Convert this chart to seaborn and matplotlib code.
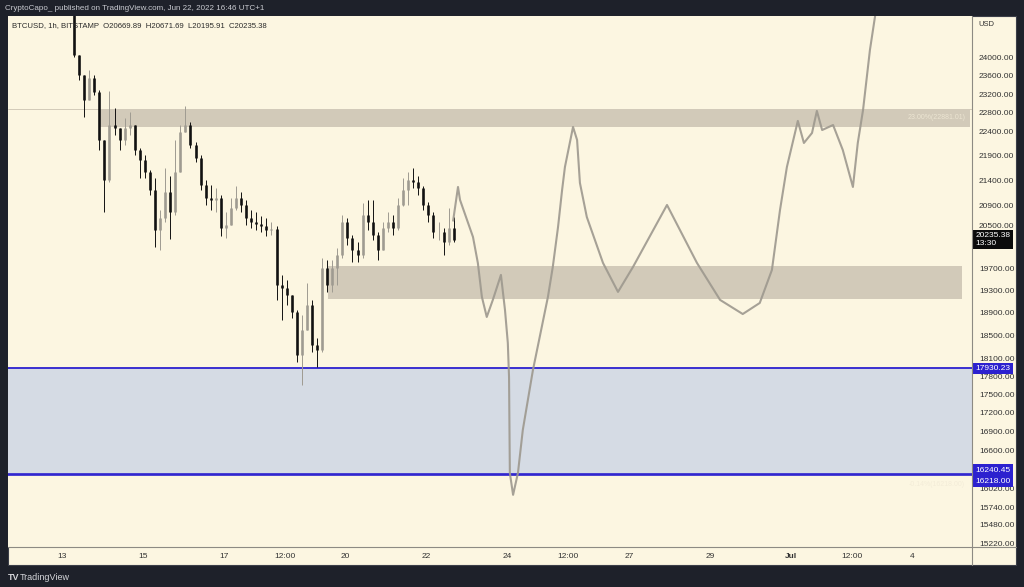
import numpy as np
import matplotlib
matplotlib.use("Agg")
import matplotlib.pyplot as plt
import seaborn as sns
from matplotlib.patches import Rectangle
from matplotlib.lines import Line2D
from matplotlib.ticker import FixedLocator, FixedFormatter, NullLocator

# 3h candles, x = day of June
candle_start = 13.3
candle_step = 0.125
first_open = 25200
closes = [24070, 23620, 23072, 23553, 23246, 22221, 21402, 22537, 22473, 22221,
          22473, 22537, 22014, 21808, 21564, 21202, 20421, 20652, 21162, 20769,
          21564, 22389, 22537, 22117, 21849, 21302, 21043, 21004, 21043, 20459,
          20517, 20847, 21043, 20905, 20652, 20575, 20536, 20498, 20421, 20440,
          19393, 19338, 19212, 18908, 18160, 18591, 19032, 18331, 18245, 19705,
          19393, 19705, 19947, 20575, 20268, 20041, 19947, 20710, 20575, 20325,
          20041, 20459, 20575, 20459, 20905, 21202, 21402, 21362, 21242, 20905,
          20710, 20383, 20383, 20192, 20459, 20235.38]
highs = [25350, 24070, 23620, 23731, 23620, 23300, 22221, 23268, 22899, 22473,
         22686, 22813, 22537, 22055, 21911, 21604, 21442, 20808, 21644, 21483,
         22221, 22537, 22942, 22601, 22180, 21900, 21402, 21302, 21242, 21103,
         20769, 21043, 21282, 21162, 21004, 20808, 20769, 20691, 20652, 20575,
         20498, 19576, 19484, 19212, 18943, 18854, 19429, 19122, 18452, 19891,
         19854, 19854, 20079, 20710, 20652, 20325, 20192, 20944, 21004, 21004,
         20383, 20575, 20769, 20710, 21043, 21442, 21564, 21644, 21483, 21282,
         20964, 20769, 20575, 20459, 20847, 20671.69]
lows = [24020, 23509, 22707, 23072, 23181, 22014, 20769, 21362, 22326, 22014,
        22117, 22326, 21911, 21442, 21442, 21103, 20098, 20041, 20575, 20249,
        20710, 21564, 22389, 22055, 21767, 21202, 20905, 20808, 20769, 20306,
        20268, 20517, 20808, 20769, 20517, 20459, 20421, 20383, 20306, 20325,
        19122, 18766, 19032, 18801, 18041, 17655, 18591, 18211, 17956, 18211,
        19266, 19266, 19393, 19891, 20135, 19817, 19817, 19891, 20421, 20230,
        19854, 20041, 20383, 20325, 20421, 20886, 20905, 21242, 21103, 20808,
        20575, 20268, 20230, 19947, 20135, 20195.91]

# hand drawn projection
proj_days = [22.66, 22.78, 22.83, 23.15, 23.27, 23.37, 23.49, 23.64, 23.84, 23.94,
             24.01, 24.04, 24.06, 24.14, 24.26, 24.38, 24.63, 25.00, 25.12, 25.25,
             25.35, 25.42, 25.62, 25.72, 25.79, 25.96, 26.36, 26.73, 27.10, 27.94,
             28.68, 29.25, 29.81, 30.23, 30.53, 30.73, 30.90, 31.17, 31.32, 31.52,
             31.64, 31.77, 32.04, 32.28, 32.53, 32.65, 32.78, 32.95, 33.10]
proj_prices = [20600, 21262, 21005, 20287, 19798, 19176, 18819, 19123, 19577, 18943,
               18365, 17789, 16255, 15924, 16255, 16925, 17904, 19176, 19723, 20479,
               21202, 21665, 22495, 22222, 21343, 20671, 19798, 19267, 19723, 20906,
               19798, 19123, 18871, 19068, 19668, 20808, 21665, 22623, 22159, 22368,
               22836, 22430, 22536, 22013, 21262, 22159, 22856, 24181, 25106]

zone_top = 17930.23
zone_lows = [16240.45, 16218.00]
supply_box = [13.94, 35.42, 22494, 22881.01]
demand_box = [19.57, 35.22, 19140, 19742]
last_price = 20235.38

price_ticks = [24000, 23600, 23200, 22800, 22400, 21900, 21400, 20900, 20500,
               19700, 19300, 18900, 18500, 18100, 17800, 17500, 17200, 16900, 16600,
               16020, 15740, 15480, 15220]
date_ticks = [13, 15, 17, 18.5, 20, 22, 24, 25.5, 27, 29, 31, 32.5, 34]
date_labels = ["13", "15", "17", "12:00", "20", "22", "24", "12:00", "27", "29", "Jul", "12:00", "4"]

DARK = "#1e212a"
CREAM = "#fcf6e1"
TAN = "#d2cab9"
BLUE = "#2c21cf"
BLUE_FILL = "#d5dbe4"
GREY_LINE = "#9d988e"
TXT = "#333333"

sns.set_style("white")
plt.rcParams["font.family"] = ["Liberation Sans", "DejaVu Sans"]

W, H = 1024, 587
fig = plt.figure(figsize=(W / 100, H / 100), dpi=100, facecolor=DARK)

def fx(px):
    return px / W

def fy(py):
    return (H - py) / H

# cream panel behind chart + axis strips
fig.add_artist(Rectangle((fx(8), fy(565)), fx(1016) - fx(8), fy(16) - fy(565),
                         transform=fig.transFigure, fc=CREAM, ec="#3b3e48", lw=0.8, zorder=0))

ax = fig.add_axes([fx(8), fy(547), fx(972) - fx(8), fy(16) - fy(547)])
ax.set_facecolor(CREAM)
for s in ax.spines.values():
    s.set_visible(False)

# zones
ax.axhspan(zone_lows[0], zone_top, color=BLUE_FILL, lw=0, zorder=0.5)
ax.fill_between(supply_box[:2], supply_box[2], supply_box[3], color=TAN, lw=0, zorder=1)
ax.fill_between(demand_box[:2], demand_box[2], demand_box[3], color=TAN, lw=0, zorder=1)
ax.axhline(supply_box[3], color="#cbc3b2", lw=0.6, zorder=0.8)
ax.axhline(zone_top, color=BLUE, lw=1.3, zorder=2)
for z in zone_lows:
    ax.axhline(z, color=BLUE, lw=1.2, zorder=2)
ax.text(35.3, 22690, "23.00%(22881.01)", color="#ece5d2", fontsize=5, ha="right", va="center", zorder=1.5)
ax.text(35.3, 16080, "-0.14%(16218.00)", color="#f3ecd8", fontsize=5, ha="right", va="center", zorder=1.5)

# candles
c = np.array(closes, dtype=float)
o = np.concatenate([[first_open], c[:-1]])
t = candle_start + candle_step * np.arange(len(c))
cols = np.where(c >= o, "#9f9b91", "#111111")
ax.vlines(t, lows, highs, colors=cols, lw=0.7, zorder=3)
ax.vlines(t, np.minimum(o, c), np.maximum(o, c), colors=cols, lw=1.9, zorder=4)

# projection
sns.lineplot(x=proj_days, y=proj_prices, sort=False, estimator=None, ax=ax,
             color=GREY_LINE, lw=1.5, alpha=0.9, zorder=5, solid_joinstyle="round")

ax.set_yscale("log")
ax.set_xlim(11.67, 35.47)
ax.set_ylim(15163, 24965)
ax.set_xlabel("")
ax.set_ylabel("")
ax.yaxis.tick_right()
ax.yaxis.set_major_locator(FixedLocator(price_ticks))
ax.yaxis.set_major_formatter(FixedFormatter([f"{p:.2f}" for p in price_ticks]))
ax.yaxis.set_minor_locator(NullLocator())
ax.tick_params(axis="y", length=0, pad=5, labelsize=6, labelcolor=TXT)
ax.set_xticks(date_ticks)
ax.set_xticklabels(date_labels)
ax.xaxis.set_minor_locator(NullLocator())
ax.tick_params(axis="x", length=0, pad=4, labelsize=6, labelcolor=TXT)
for lab in ax.get_xticklabels():
    if lab.get_text() == "Jul":
        lab.set_fontweight("bold")
ax.grid(False)

# price labels on the right scale
def price_tag(y, text, fc, dy=0):
    ax.annotate(text, xy=(1, y), xycoords=("axes fraction", "data"),
                xytext=(2.5, dy), textcoords="offset points", ha="left", va="center",
                fontsize=6, color="white", annotation_clip=False, zorder=10,
                bbox=dict(boxstyle="square,pad=0.25", fc=fc, ec="none"))

price_tag(last_price, f"{last_price:.2f}\n13:30", "#0b0b0b")
price_tag(zone_top, f"{zone_top:.2f}", BLUE)
price_tag(zone_lows[0], f"{zone_lows[0]:.2f}", BLUE, dy=2.8)
price_tag(zone_lows[1], f"{zone_lows[1]:.2f}", BLUE, dy=-4.6)

# separators
fig.add_artist(Line2D([fx(972), fx(972)], [fy(565), fy(16)], color="#8d8a83", lw=0.8))
fig.add_artist(Line2D([fx(8), fx(1016)], [fy(547), fy(547)], color="#8d8a83", lw=0.8))

# header / footer text
fig.text(fx(5), fy(9), "CryptoCapo_ published on TradingView.com, Jun 22, 2022 16:46 UTC+1",
         color="#c9cbd1", fontsize=5.8, va="center")
fig.text(fx(12), fy(26), "BTCUSD, 1h, BITSTAMP  O20669.89  H20671.69  L20195.91  C20235.38",
         color="#2a2a2a", fontsize=5.6, va="center", zorder=2)
fig.text(fx(978), fy(24), "USD", color=TXT, fontsize=5.5, va="center")
fig.text(fx(8), fy(577), "TV", color="#d5d6da", fontsize=6.5, fontweight="bold", va="center")
fig.text(fx(20), fy(577), "TradingView", color="#d5d6da", fontsize=6.5, va="center")

fig.savefig("out.png", dpi=100, facecolor=DARK)
